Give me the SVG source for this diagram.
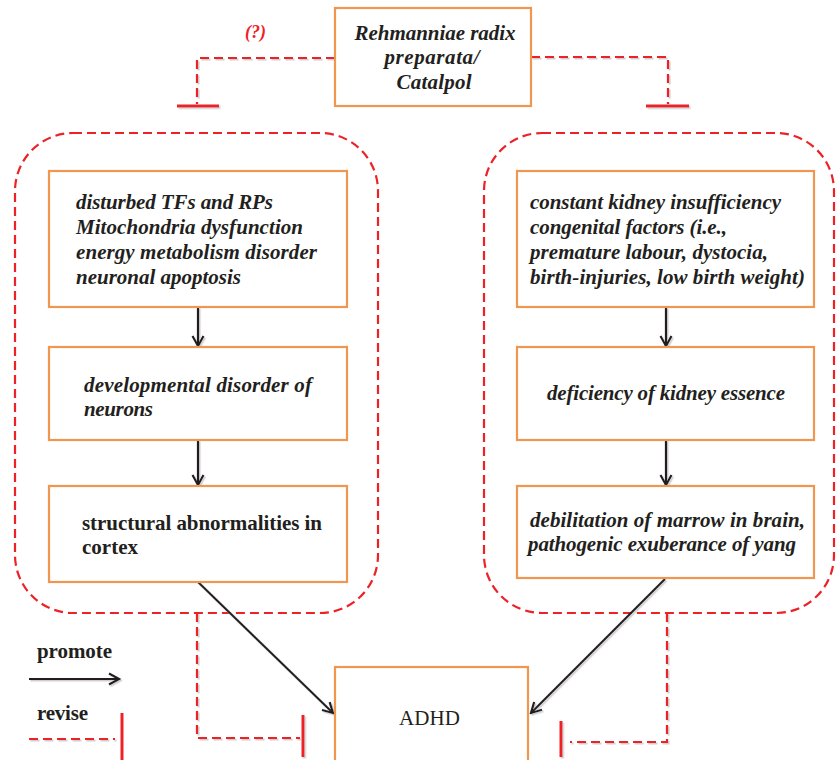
<svg xmlns="http://www.w3.org/2000/svg" width="836" height="760" viewBox="0 0 836 760">
<defs>
<style>
.box{fill:#fff;stroke:#F0964F;stroke-width:2.2}
.grp{fill:none;stroke:#EC2227;stroke-width:2.2;stroke-dasharray:9 5}
.rev{fill:none;stroke:#EC2227;stroke-width:2.2;stroke-dasharray:9 5}
.bar{fill:none;stroke:#EC2227;stroke-width:3}
.pro{fill:none;stroke:#231F20;stroke-width:2.2;marker-end:url(#ah)}
.t{font-family:"Liberation Serif","Times New Roman",serif;font-size:21px;font-weight:bold;font-style:italic;fill:#231F20}
.tb{font-family:"Liberation Serif","Times New Roman",serif;font-size:21px;font-weight:bold;fill:#231F20}
.tr{font-family:"Liberation Serif","Times New Roman",serif;font-size:21px;fill:#231F20}
</style>
<marker id="ah" viewBox="0 0 14 14" refX="12" refY="7" markerWidth="14" markerHeight="14" markerUnits="userSpaceOnUse" orient="auto">
<path d="M2,1.5 L12,7 L2,12.5" fill="none" stroke="#231F20" stroke-width="2.2"/>
</marker>
<filter id="sh" filterUnits="userSpaceOnUse" x="0" y="0" width="836" height="760">
<feDropShadow dx="1.5" dy="1.5" stdDeviation="0.6" flood-color="#bbbbbb" flood-opacity="0.7"/>
</filter>
</defs>

<g id="groups">
<rect class="grp" x="15" y="133" width="363" height="480" rx="58" ry="58"/>
<rect class="grp" x="484" y="133" width="350" height="480" rx="58" ry="58"/>
</g>

<g id="connectors" filter="url(#sh)">
<polyline class="rev" points="335,58 197,58 197,104"/>
<line class="bar" x1="177" y1="106" x2="219" y2="106"/>
<polyline class="rev" points="531,57 668,57 668,104"/>
<line class="bar" x1="646" y1="106" x2="689" y2="106"/>
<line class="pro" x1="198" y1="307" x2="198" y2="346"/>
<line class="pro" x1="198" y1="440" x2="198" y2="485"/>
<line class="pro" x1="666" y1="307" x2="666" y2="346"/>
<line class="pro" x1="666" y1="440" x2="666" y2="485"/>
<line class="pro" x1="198" y1="582" x2="333" y2="713"/>
<line class="pro" x1="665" y1="579" x2="531" y2="713"/>
<polyline class="rev" points="197,613 197,738 300,738"/>
<line class="bar" x1="303" y1="715" x2="303" y2="757"/>
<polyline class="rev" points="667,613 667,742 570,742"/>
<line class="bar" x1="561" y1="721" x2="561" y2="757"/>
</g>

<g id="top">
<rect class="box" x="335" y="8" width="196" height="98"/>
<text class="t" text-anchor="middle" x="435" y="40" textLength="161">Rehmanniae radix</text>
<text class="t" text-anchor="middle" x="432" y="64" textLength="95">preparata/</text>
<text class="t" text-anchor="middle" x="434" y="89" textLength="75">Catalpol</text>
</g>
<text id="q" x="245" y="38" style="font-family:'Liberation Serif',serif;font-size:18px;font-weight:bold;font-style:italic;fill:#EC2227">(?)</text>

<g id="l1">
<rect class="box" x="49" y="171" width="298" height="136"/>
<text class="t" x="76" y="209" textLength="197">disturbed TFs and RPs</text>
<text class="t" x="76" y="234" textLength="227">Mitochondria dysfunction</text>
<text class="t" x="76" y="259" textLength="241">energy metabolism disorder</text>
<text class="t" x="76" y="284" textLength="165">neuronal apoptosis</text>
</g>
<g id="l2">
<rect class="box" x="49" y="347" width="298" height="93"/>
<text class="t" x="84" y="392" textLength="228">developmental disorder of</text>
<text class="t" x="84" y="416" textLength="69">neurons</text>
</g>
<g id="l3">
<rect class="box" x="49" y="486" width="298" height="96"/>
<text class="tb" x="82" y="530" textLength="240">structural abnormalities in</text>
<text class="tb" x="82" y="554" textLength="56">cortex</text>
</g>

<g id="r1">
<rect class="box" x="517" y="171" width="297" height="136"/>
<text class="t" x="530" y="209" textLength="251">constant kidney insufficiency</text>
<text class="t" x="530" y="234" textLength="197">congenital factors (i.e.,</text>
<text class="t" x="530" y="259" textLength="238">premature labour, dystocia,</text>
<text class="t" x="530" y="284" textLength="275">birth-injuries, low birth weight)</text>
</g>
<g id="r2">
<rect class="box" x="517" y="347" width="297" height="93"/>
<text class="t" x="547" y="400" textLength="238">deficiency of kidney essence</text>
</g>
<g id="r3">
<rect class="box" x="517" y="486" width="297" height="92"/>
<text class="t" x="530" y="527" textLength="275">debilitation of marrow in brain,</text>
<text class="t" x="528" y="551" textLength="268">pathogenic exuberance of yang</text>
</g>

<g id="adhd">
<rect class="box" x="335" y="667" width="193" height="100"/>
<text class="tr" x="399" y="725" textLength="61">ADHD</text>
</g>

<g id="legend">
<text class="tb" x="37" y="658" textLength="75">promote</text>
<line class="pro" x1="29" y1="679" x2="119" y2="679" filter="url(#sh)"/>
<text class="tb" x="37" y="720" textLength="51">revise</text>
<line class="rev" x1="29" y1="739" x2="115" y2="739" filter="url(#sh)"/>
<line class="bar" x1="122" y1="713" x2="122" y2="760"/>
</g>
</svg>
